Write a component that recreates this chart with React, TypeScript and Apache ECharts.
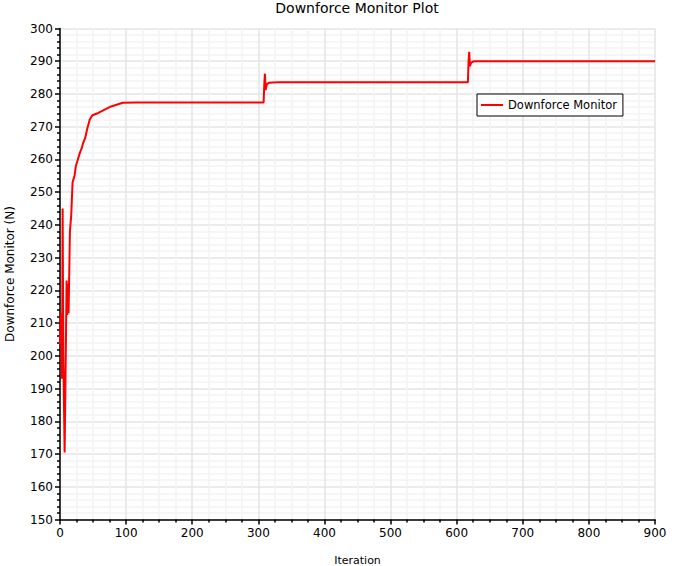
import React, { useEffect, useRef } from "react";
import * as echarts from "echarts";

const titleText = "Downforce Monitor Plot";
const seriesName = "Downforce Monitor";
const xAxisName = "Iteration";
const yAxisName = "Downforce Monitor (N)";

const iterations = [
  0, 1, 2, 3, 4, 5, 7, 9, 10, 11, 12, 13, 15, 17, 19, 22, 24, 27, 30, 33, 35, 38, 41, 45, 49, 58, 75, 95, 116,
  308, 309, 310, 311, 313, 316, 330, 617, 618, 619, 620, 622, 626, 900,
];
const downforce = [
  203.5, 213, 204, 193, 245, 200, 170.5, 205, 223, 212.5, 222, 213, 238, 243, 253, 255, 258, 260, 262, 263.5,
  265, 266.5, 269.2, 272.2, 273.5, 274.2, 276, 277.3, 277.4, 277.4, 283, 286.2, 281.2, 283, 283.4, 283.6, 283.6,
  290, 292.9, 288.5, 289.6, 290, 290,
];

const xMin = 0;
const xMax = 900;
const xInterval = 100;
const yMin = 150;
const yMax = 300;
const yInterval = 10;

export default function App() {
  const ref = useRef<HTMLDivElement>(null);
  useEffect(() => {
    if (!ref.current) return;
    const chart = echarts.init(ref.current, undefined, { renderer: "svg" });
    const font = "DejaVu Sans";
    const data = iterations.map((x, i) => [x, downforce[i]]);
    chart.setOption({
      animation: false,
      backgroundColor: "#ffffff",
      textStyle: { fontFamily: font, color: "#000" },
      title: {
        text: titleText,
        left: 357,
        top: 1,
        padding: 0,
        textAlign: "center",
        textStyle: { fontFamily: font, fontSize: 14, fontWeight: "normal", color: "#000" },
      },
      legend: {
        left: 477,
        top: 94,
        orient: "vertical",
        backgroundColor: "#fff",
        borderColor: "#000",
        borderWidth: 1,
        borderRadius: 0,
        padding: [5, 6, 5, 4],
        itemWidth: 22,
        itemHeight: 2,
        itemGap: 0,
        icon: "rect",
        textStyle: { fontFamily: font, fontSize: 11.5, color: "#000", padding: [0, 0, 0, 0] },
        data: [{ name: seriesName, icon: "rect", itemStyle: { color: "#ff0000" } }],
        itemStyle: { color: "#ff0000" },
      },
      grid: { left: 60, right: 19, top: 28.5, bottom: 46.5, outerBoundsMode: "none", containLabel: false },
      xAxis: {
        type: "value",
        min: xMin,
        max: xMax,
        interval: xInterval,
        name: xAxisName,
        nameLocation: "middle",
        nameGap: 35,
        nameTextStyle: { fontFamily: font, fontSize: 11, color: "#000" },
        axisLine: { show: true, lineStyle: { color: "#000", width: 1.5 } },
        axisTick: { show: true, length: 5, lineStyle: { color: "#000", width: 1.5 } },
        minorTick: { show: true, splitNumber: 4, length: 3, lineStyle: { color: "#000", width: 1.5 } },
        axisLabel: { fontFamily: font, fontSize: 12, color: "#000", margin: 7 },
        splitLine: { show: true, lineStyle: { color: "#e4e4e4", width: 1.5 } },
        minorSplitLine: { show: true, lineStyle: { color: "#f3f3f3", width: 1.5 } },
      },
      yAxis: {
        type: "value",
        min: yMin,
        max: yMax,
        interval: yInterval,
        name: yAxisName,
        nameLocation: "middle",
        nameGap: 44,
        nameTextStyle: { fontFamily: font, fontSize: 12, color: "#000" },
        axisLine: { show: true, lineStyle: { color: "#000", width: 1.5 } },
        axisTick: { show: true, length: 5, lineStyle: { color: "#000", width: 1.5 } },
        minorTick: { show: true, splitNumber: 5, length: 3, lineStyle: { color: "#000", width: 1.5 } },
        axisLabel: { fontFamily: font, fontSize: 12, color: "#000", margin: 7 },
        splitLine: { show: true, lineStyle: { color: "#e4e4e4", width: 1.5 } },
        minorSplitLine: { show: true, lineStyle: { color: "#f3f3f3", width: 1.5 } },
      },
      series: [
        {
          name: seriesName,
          type: "line",
          data,
          symbol: "none",
          showSymbol: false,
          color: "#ff0000",
          lineStyle: { color: "#ff0000", width: 2 },
          clip: false,
        },
      ],
    });
    return () => chart.dispose();
  }, []);
  return (
    <div
      ref={ref}
      style={{ position: "absolute", left: 0, top: 0, width: 674, height: 566 }}
    />
  );
}
